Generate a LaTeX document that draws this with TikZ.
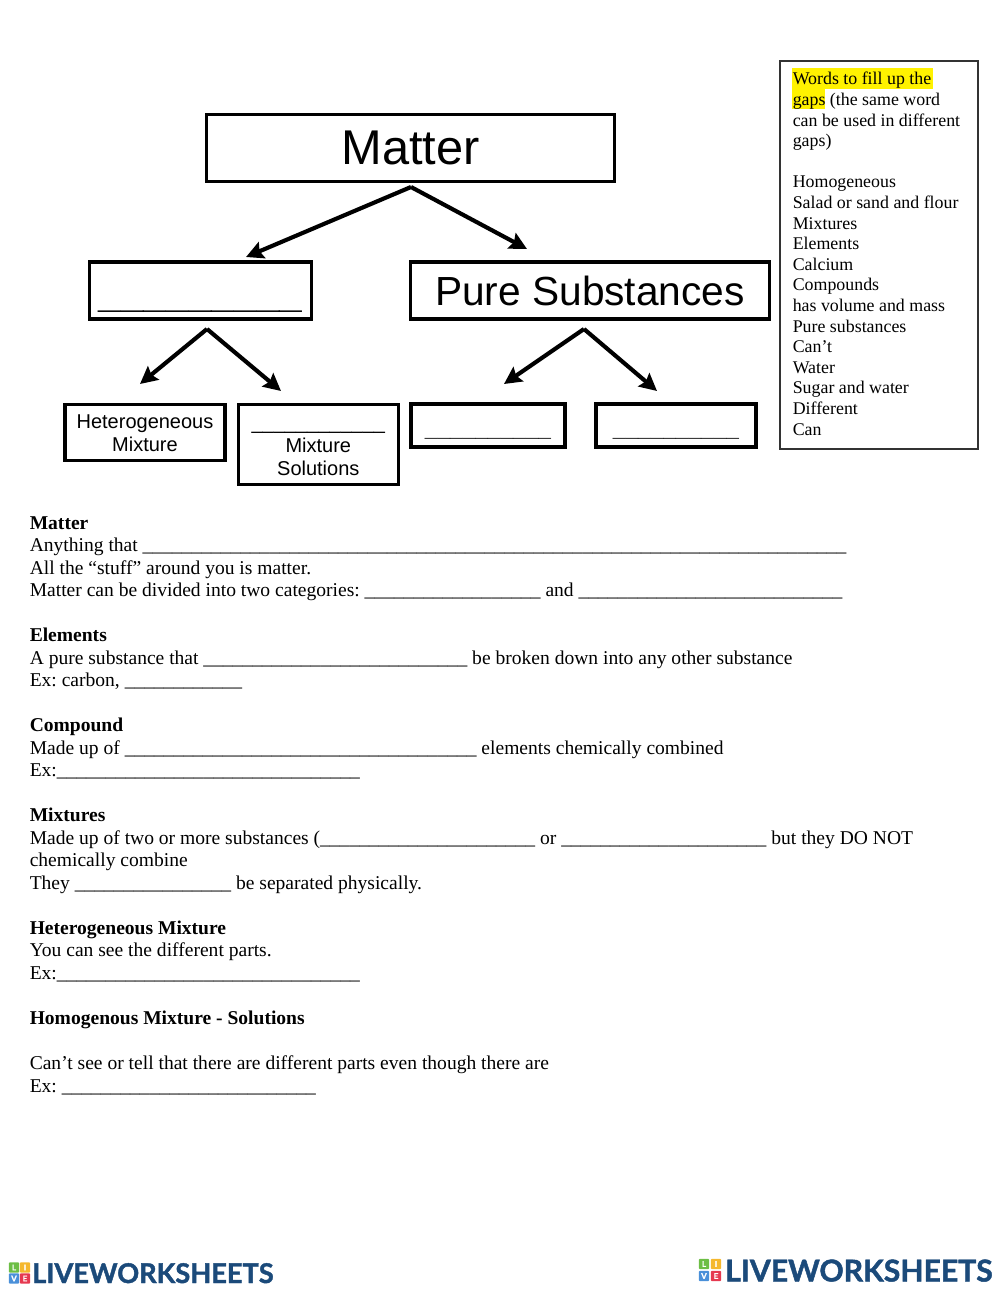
\documentclass[tikz,border=0pt]{standalone}
\usepackage{fontspec}
\setmainfont{Liberation Serif}
\newfontfamily\boxfont{Liberation Sans}
\newfontfamily\logofont{Lato}[BoldFeatures={FakeBold=1.5}]
\usetikzlibrary{positioning, arrows.meta}
\definecolor{logonavy}{HTML}{1B4A7A}
\definecolor{logogreen}{HTML}{6DBE45}
\definecolor{logoyellow}{HTML}{F5B82E}
\definecolor{logoblue}{HTML}{4A90D9}
\definecolor{logored}{HTML}{E63950}
\newcommand{\gapline}[1]{\foreach \n in {1,...,#1}{\_}}
\frenchspacing
\tikzset{
  block/.style={
    draw,
    rectangle,
    line width=2.4pt,
    align=center,
    inner sep=0pt,
    font=\boxfont\fontsize{15}{17.25}\selectfont
  },
  branch/.style={
    line width=3.1pt,
    -{Stealth[length=13pt,width=13pt,inset=2pt]}
  },
  logosquare/.style={
    rectangle,
    rounded corners=0.8pt,
    minimum size=7.8pt,
    inner sep=0pt,
    text=white,
    font=\logofont\bfseries\fontsize{6}{6}\selectfont
  },
  logotext/.style={
    anchor=base west,
    inner sep=0pt,
    text=logonavy,
    font=\logofont\bfseries
  }
}
\begin{document}
\begin{tikzpicture}[x=0.75pt, y=-0.75pt]
  \useasboundingbox (0,0) rectangle (1000,1291);
  % concept map
  \node[block, minimum width=306pt, minimum height=50pt, font=\boxfont\fontsize{36.6}{40}\selectfont] (matter) at (410.5,148) {Matter};
  \node[block, minimum width=166pt, minimum height=42.8pt, text height=26pt, text depth=0pt, font=\boxfont\bfseries\fontsize{30.5}{34}\selectfont] (mixtures) at (200.5,290.5) {\gapline{9}};
  \node[block, minimum width=269pt, minimum height=42.8pt, font=\boxfont\fontsize{30.5}{34}\selectfont] (pure) at (590,290.5) {Pure Substances};
  \node[block, minimum width=120pt, minimum height=42pt] (hetero) at (145,432.3) {\rule{0pt}{11.5pt}Heterogeneous\\Mixture};
  \node[block, minimum width=120pt, minimum height=60pt] (homo) at (318.3,444.3) {\strut\gapline{12}\\Mixture\\Solutions};
  \node[block, minimum width=115.5pt, minimum height=32.2pt, text height=16pt, text depth=0pt, font=\boxfont\bfseries\fontsize{17}{19}\selectfont] (elements) at (488,425.5) {\gapline{10}};
  \node[block, minimum width=120pt, minimum height=32.2pt, text height=16pt, text depth=0pt, font=\boxfont\bfseries\fontsize{17}{19}\selectfont] (compounds) at (676,425.5) {\gapline{10}};

  \coordinate (matterfork) at (411,187);
  \coordinate (mixfork) at (207,329);
  \coordinate (purefork) at (584,329);
  \coordinate (mixend) at (246,257);
  \coordinate (pureend) at (527,249);
  \coordinate (heteroend) at (140,384);
  \coordinate (homoend) at (281,391);
  \coordinate (elemend) at (504,384);
  \coordinate (compend) at (657,391);

  \draw[branch] (matterfork) -- (mixend);
  \draw[branch] (matterfork) -- (pureend);
  \draw[branch] (mixfork) -- (heteroend);
  \draw[branch] (mixfork) -- (homoend);
  \draw[branch] (purefork) -- (elemend);
  \draw[branch] (purefork) -- (compend);

  % word list
  \node[draw=black!80, line width=0.8pt, minimum width=148.5pt, minimum height=291pt, inner sep=0pt] (wordbox) at (879,255) {};
  \node[rectangle, fill=yellow, inner sep=0pt, minimum width=105.5pt, minimum height=15.4pt] (hilitea) at (862.5,78.3) {};
  \node[rectangle, fill=yellow, inner sep=0pt, minimum width=25pt, minimum height=15.4pt] (hiliteb) at (808.5,98.8) {};
  \node[anchor=north west, inner sep=0pt, align=left, font=\fontsize{13.4}{15.45}\selectfont] (wordlist) at (792.5,72) {%
    Words to fill up the\\
    gaps (the same word\\
    can be used in different\\
    gaps)\\[15.45pt]
    Homogeneous\\
    Salad or sand and flour\\
    Mixtures\\
    Elements\\
    Calcium\\
    Compounds\\
    has volume and mass\\
    Pure substances\\
    Can’t\\
    Water\\
    Sugar and water\\
    Different\\
    Can};

  % worksheet text
  \node[anchor=north west, inner sep=0pt, align=left, font=\fontsize{14.66}{16.89}\selectfont] (sheet) at (29.5,516) {%
    \textbf{Matter}\\
    Anything that \gapline{72}\\
    All the “stuff” around you is matter.\\
    Matter can be divided into two categories: \gapline{18} and \gapline{27}\\[16.89pt]
    \textbf{Elements}\\
    A pure substance that \gapline{27} be broken down into any other substance\\
    Ex: carbon, \gapline{12}\\[16.89pt]
    \textbf{Compound}\\
    Made up of \gapline{36} elements chemically combined\\
    Ex:\gapline{31}\\[16.89pt]
    \textbf{Mixtures}\\
    Made up of two or more substances (\gapline{22} or \gapline{21} but they DO NOT\\
    chemically combine\\
    They \gapline{16} be separated physically.\\[16.89pt]
    \textbf{Heterogeneous Mixture}\\
    You can see the different parts.\\
    Ex:\gapline{31}\\[16.89pt]
    \textbf{Homogenous Mixture - Solutions}\\[16.89pt]
    Can’t see or tell that there are different parts even though there are\\
    Ex: \gapline{26}};

  % logos
  \node[logosquare, fill=logogreen] (lefta) at (14,1267.5) {L};
  \node[logosquare, fill=logoyellow] (leftb) at (25,1267.5) {I};
  \node[logosquare, fill=logoblue] (leftc) at (14,1278.5) {V};
  \node[logosquare, fill=logored] (leftd) at (25,1278.5) {E};
  \node[logotext, font=\logofont\bfseries\fontsize{20.4}{21}\selectfont] (lefttext) at (32,1283) {LIVEWORKSHEETS};
  \node[logosquare, fill=logogreen] (righta) at (704,1264) {L};
  \node[logosquare, fill=logoyellow] (rightb) at (716,1264) {I};
  \node[logosquare, fill=logoblue] (rightc) at (704,1276) {V};
  \node[logosquare, fill=logored] (rightd) at (716,1276) {E};
  \node[logotext, font=\logofont\bfseries\fontsize{22.6}{23}\selectfont] (righttext) at (725,1281.5) {LIVEWORKSHEETS};
\end{tikzpicture}
\end{document}
